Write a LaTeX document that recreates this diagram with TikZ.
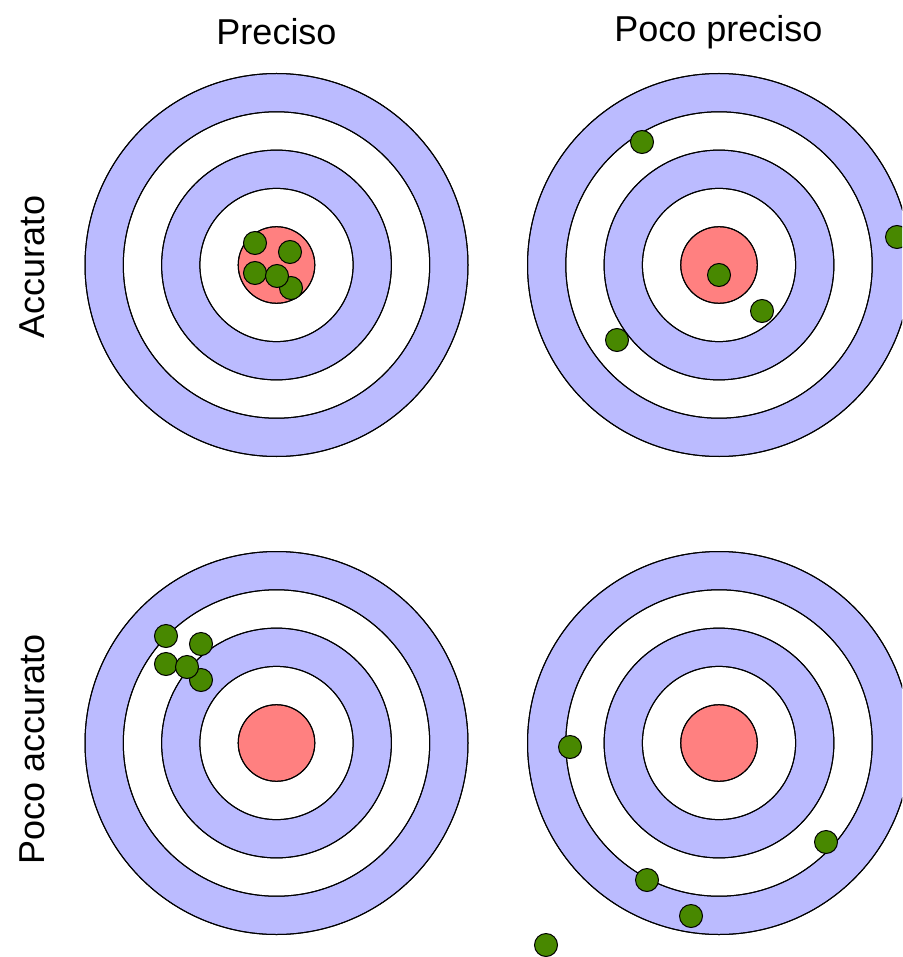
\documentclass[tikz,border=0pt]{standalone}
\usepackage{fontspec}
\setmainfont{Liberation Sans}
\definecolor{ringblue}{RGB}{187,187,255}
\definecolor{bullred}{RGB}{255,128,128}
\definecolor{shotgreen}{RGB}{72,136,0}
\tikzset{
  ring/.style={draw=black, line width=1pt},
  shot/.style={draw=black, line width=1pt, fill=shotgreen},
  lbl/.style={font=\fontsize{36}{42}\selectfont, inner sep=0pt}
}
\newcommand{\mytarget}[2]{%
  \fill[ring, fill=ringblue] (#1,#2) circle (191.5);
  \fill[ring, fill=white] (#1,#2) circle (153.2);
  \fill[ring, fill=ringblue] (#1,#2) circle (114.9);
  \fill[ring, fill=white] (#1,#2) circle (76.6);
  \fill[ring, fill=bullred] (#1,#2) circle (38.3);
  \draw[ring] (#1,#2) circle (191.5) (#1,#2) circle (153.2) (#1,#2) circle (114.9) (#1,#2) circle (76.6) (#1,#2) circle (38.3);
}
\newcommand{\myshot}[2]{\filldraw[shot] (#1,#2) circle (11.5);}
\begin{document}
\begin{tikzpicture}[x=1pt,y=-1pt]
\useasboundingbox (0,0) rectangle (902,957);
\clip (0,0) rectangle (902,957);
\fill[white] (0,0) rectangle (902,957);
% labels
\node[lbl] (precise) at (276.5,32) {Preciso};
\node[lbl] (imprecise) at (718.5,32) {Poco preciso};
\node[lbl, rotate=90] (accurate) at (32,267) {Accurato};
\node[lbl, rotate=90] (inaccurate) at (32,749) {Poco accurato};
% top-left
\mytarget{276.5}{265}
\myshot{255}{243}
\myshot{290}{252}
\myshot{255}{273}
\myshot{291}{288}
\myshot{277}{276}
% top-right
\mytarget{719}{265}
\myshot{642}{142}
\myshot{897}{237}
\myshot{719}{275}
\myshot{762}{311}
\myshot{617}{340}
% bottom-left
\mytarget{276.5}{743}
\myshot{166}{636}
\myshot{201}{644}
\myshot{166}{664}
\myshot{201}{680}
\myshot{187}{667}
% bottom-right
\mytarget{719}{743}
\myshot{570}{747}
\myshot{826}{842}
\myshot{647}{880}
\myshot{691}{916}
\myshot{546}{945}
\end{tikzpicture}
\end{document}
